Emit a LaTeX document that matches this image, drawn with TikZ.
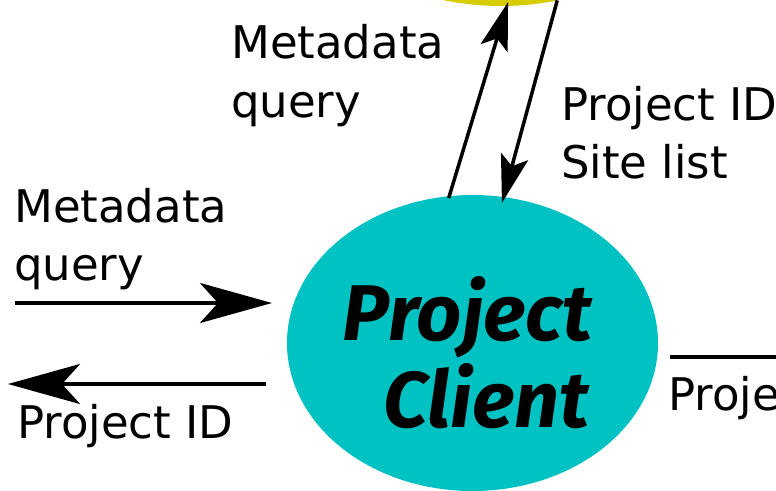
\documentclass[tikz,border=0pt]{standalone}
\usepackage{fontspec}
\setmainfont{DejaVu Sans}
\newfontfamily\handfont{Fira Sans}
\usetikzlibrary{arrows.meta,shapes.geometric}
\definecolor{clientcyan}{RGB}{0,194,194}
\definecolor{catalogyellow}{RGB}{214,204,0}
\begin{document}
\begin{tikzpicture}[x=1pt,y=-1pt,
  flowlabel/.style={anchor=base west,inner sep=0pt,font=\fontsize{45}{58}\selectfont},
  clientlabel/.style={anchor=base,inner sep=0pt,font=\handfont\bfseries\itshape\fontsize{79}{87}\selectfont},
  bigarrow/.style={line width=4pt,-{Stealth[length=72pt,width=40pt,inset=18pt]}},
  diagarrow/.style={line width=3.5pt,-{Stealth[length=48pt,width=28pt,inset=10pt]}},
  plainline/.style={line width=4pt}]
\useasboundingbox (0,0) rectangle (776,490);
\clip (0,0) rectangle (776,490);

% process nodes
\node[ellipse,fill=catalogyellow,draw=none,outer sep=0pt,
      minimum width=440pt,minimum height=338pt] (catalog) at (501,-163) {};
\node[ellipse,fill=clientcyan,draw=none,outer sep=0pt,
      minimum width=371pt,minimum height=296pt] (client) at (472.5,343) {};
\node[clientlabel] (clientA) at (467.5,340) {Project};
\node[clientlabel] (clientB) at (486.5,427) {Client};

% free ends of the side flows
\coordinate (inStart) at (15,303);
\coordinate (outEnd) at (8,384);
\coordinate (rightEnd) at (800,357);

% flows between client and catalog
\draw[diagarrow,shorten >=-4pt,shorten <=-2pt] (client.99.2) -- (catalog.-88.6);
\draw[diagarrow,shorten >=-6pt] (catalog.-71.6) -- (client.78.5);

% side flows
\draw[bigarrow,shorten >=15pt] (inStart) -- (client.west |- inStart);
\draw[bigarrow,shorten <=21pt] (client.west |- outEnd) -- (outEnd);
\draw[plainline,shorten <=12pt] (client.east |- rightEnd) -- (rightEnd);

% flow labels
\node[flowlabel] (mqA1) at (231,58) {Metadata};
\node[flowlabel] (mqA2) at (231,117) {query};
\node[flowlabel] (psB1) at (561,120) {Project ID};
\node[flowlabel] (psB2) at (561,178) {Site list};
\node[flowlabel] (mqC1) at (14,222) {Metadata};
\node[flowlabel] (mqC2) at (14,280) {query};
\node[flowlabel] (pidD) at (17,438) {Project ID};
\node[flowlabel] (pidE) at (668,410) {Project ID};
\end{tikzpicture}
\end{document}
